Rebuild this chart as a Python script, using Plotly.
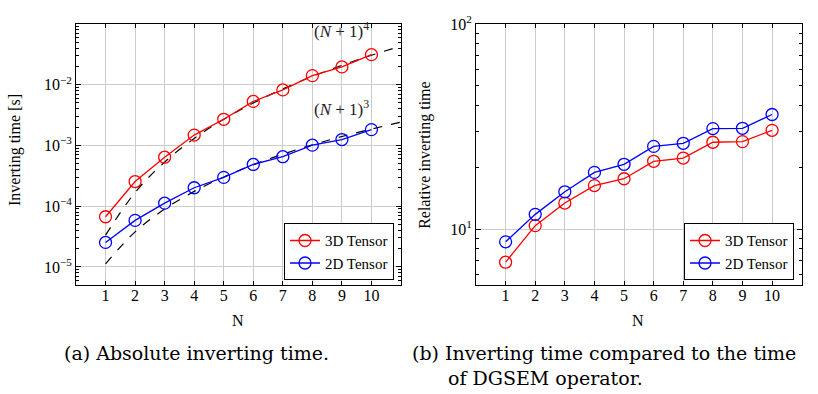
import plotly.graph_objects as go

N = [1, 2, 3, 4, 5, 6, 7, 8, 9, 10]
N_ref = [1, 2, 3, 4, 5, 6, 7, 8, 9, 10, 11]

abs_3d = [6.7e-5, 2.54e-4, 6.4e-4, 1.48e-3, 2.69e-3, 5.3e-3, 8.2e-3, 1.41e-2, 1.96e-2, 3.12e-2]
abs_2d = [2.53e-5, 5.83e-5, 1.12e-4, 2.01e-4, 2.98e-4, 4.86e-4, 6.52e-4, 1.01e-3, 1.25e-3, 1.82e-3]
ref_p4 = [3.33e-5, 1.68e-4, 5.32e-4, 1.30e-3, 2.70e-3, 4.99e-3, 8.52e-3, 1.365e-2, 2.08e-2, 3.05e-2, 4.31e-2]
ref_p3 = [1.12e-5, 3.78e-5, 8.96e-5, 1.75e-4, 3.02e-4, 4.80e-4, 7.17e-4, 1.02e-3, 1.40e-3, 1.86e-3, 2.42e-3]

rel_3d = [6.9, 10.4, 13.4, 16.3, 17.6, 21.4, 22.2, 26.5, 26.7, 30.3]
rel_2d = [8.67, 11.8, 15.2, 18.9, 20.7, 25.3, 26.2, 30.9, 31.0, 36.2]

left_yticks = [1e-5, 1e-4, 1e-3, 1e-2]
left_ytext = ["10<sup>−5</sup>", "10<sup>−4</sup>", "10<sup>−3</sup>", "10<sup>−2</sup>"]
left_minor = [m * d for d in [1e-6, 1e-5, 1e-4, 1e-3, 1e-2] for m in [2, 3, 4, 5, 6, 7, 8, 9]]
right_yticks = [10, 100]
right_ytext = ["10<sup>1</sup>", "10<sup>2</sup>"]
right_minor = [m * d for d in [1, 10] for m in [2, 3, 4, 5, 6, 7, 8, 9]]

FONT = "Liberation Serif"
CAP_FONT = "DejaVu Serif"
RED = "#ff0000"
BLUE = "#0000ff"

fig = go.Figure()

def series(x, y, name, color, xa, ya, legend):
    return go.Scatter(x=x, y=y, name=name, mode="lines+markers",
                      line=dict(color=color, width=1.3),
                      marker=dict(symbol="circle-open", size=12, color=color, line=dict(width=1.3)),
                      xaxis=xa, yaxis=ya, legend=legend)

for ref in (ref_p4, ref_p3):
    fig.add_trace(go.Scatter(x=N_ref, y=ref, mode="lines",
                             line=dict(color="black", width=1.2, dash="dash", shape="spline"),
                             showlegend=False, xaxis="x", yaxis="y"))
fig.add_trace(series(N, abs_3d, "3D Tensor", RED, "x", "y", "legend"))
fig.add_trace(series(N, abs_2d, "2D Tensor", BLUE, "x", "y", "legend"))
fig.add_trace(series(N, rel_3d, "3D Tensor", RED, "x2", "y2", "legend2"))
fig.add_trace(series(N, rel_2d, "2D Tensor", BLUE, "x2", "y2", "legend2"))

ydom = [1 - 282 / 394, 1 - 13.3 / 394]
grid = "#cccccc"
xcommon = dict(range=[0, 11], tickvals=N, ticks="inside", ticklen=4, tickcolor="black",
               showgrid=True, gridcolor=grid, gridwidth=1, zeroline=False,
               showline=True, linecolor="black", linewidth=1, mirror="allticks",
               ticklabelstandoff=-4,
               tickfont=dict(family=FONT, size=16, color="black"))

def ycommon(minor_vals):
    return dict(type="log", ticks="inside", ticklen=5, tickcolor="black",
                showgrid=True, gridcolor=grid, gridwidth=1, zeroline=False,
                showline=True, linecolor="black", linewidth=1, mirror="allticks",
                tickfont=dict(family=FONT, size=16, color="black"),
                minor=dict(tickvals=minor_vals, ticks="inside", ticklen=3, tickcolor="black", showgrid=False))

legend_common = dict(xanchor="right", yanchor="bottom", bordercolor="black", borderwidth=1, bgcolor="white",
                     font=dict(family=FONT, size=15, color="black"), tracegroupgap=0, itemwidth=30)

fig.update_layout(
    width=818, height=394, margin=dict(l=0, r=0, t=0, b=0),
    paper_bgcolor="white", plot_bgcolor="white",
    font=dict(family=FONT, color="black"),
    xaxis=dict(domain=[76 / 818, 401 / 818], anchor="y", **xcommon),
    yaxis=dict(domain=ydom, anchor="x", range=[-5.3, -1.0], tickvals=left_yticks, ticktext=left_ytext,
               **ycommon(left_minor)),
    xaxis2=dict(domain=[476 / 818, 801.7 / 818], anchor="y2", **xcommon),
    yaxis2=dict(domain=ydom, anchor="x2", range=[0.727, 2.0], tickvals=right_yticks, ticktext=right_ytext,
                **ycommon(right_minor)),
    legend=dict(x=394 / 818, y=1 - 277 / 394, **legend_common),
    legend2=dict(x=794 / 818, y=1 - 277 / 394, **legend_common),
    showlegend=True,
)

def pa(x, y, text, size, font=FONT, xanchor="center", angle=0):
    return dict(x=x / 818, y=1 - y / 394, xref="paper", yref="paper", text=text, showarrow=False,
                xanchor=xanchor, yanchor="middle", textangle=angle, font=dict(family=font, size=size, color="black"))

ann = [
    dict(x=9.0, y=-1.10, xref="x", yref="y", text="(<i>N</i> + 1)<sup>4</sup>", showarrow=False,
         xanchor="center", yanchor="middle", font=dict(family=FONT, size=17, color="#222")),
    dict(x=9.0, y=-2.38, xref="x", yref="y", text="(<i>N</i> + 1)<sup>3</sup>", showarrow=False,
         xanchor="center", yanchor="middle", font=dict(family=FONT, size=17, color="#222")),
    pa(238, 318, "N", 16),
    pa(638, 318, "N", 16),
    pa(15, 143, "Inverting time [s]", 16, angle=-90),
    pa(425, 148, "Relative inverting time", 16, angle=-90),
    pa(62, 352, "(a) Absolute inverting time.", 19, font=CAP_FONT, xanchor="left"),
    pa(410, 352, "(b) Inverting time compared to the time", 19, font=CAP_FONT, xanchor="left"),
    pa(446, 378, "of DGSEM operator.", 19, font=CAP_FONT, xanchor="left"),
]
fig.update_layout(annotations=ann)

fig.write_html("out.html", config={"displayModeBar": False},
               post_script="document.body.style.margin='0';document.body.style.overflow='hidden';")
